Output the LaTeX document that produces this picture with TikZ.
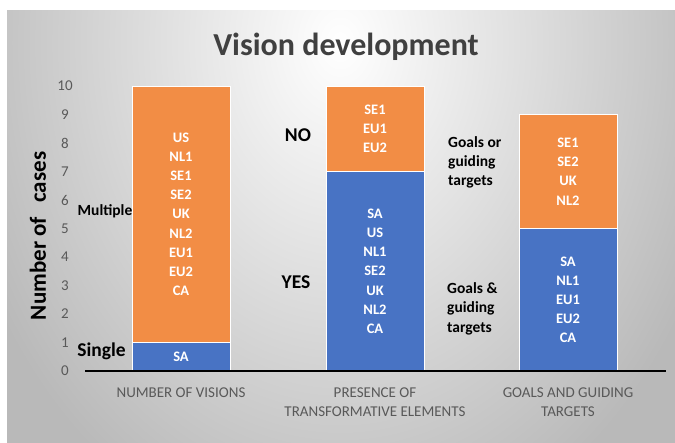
\documentclass[tikz,border=0pt]{standalone}
\usepackage{fontspec}
\setmainfont{Carlito}
\usetikzlibrary{positioning}
\definecolor{barorange}{HTML}{F28D45}
\definecolor{barblue}{HTML}{4873C4}
\definecolor{axisgray}{HTML}{595959}
\definecolor{titlegray}{HTML}{404040}
\newcommand{\caseh}{28.5pt}

\begin{document}
\begin{tikzpicture}[x=1pt,y=1pt]
    \tikzstyle{seg} = [draw=white, line width=0.8pt, minimum width=98pt, inner sep=0pt, text=white, font=\fontsize{14.5}{19.2}\selectfont\bfseries, align=center]
    \tikzstyle{tick} = [font=\fontsize{15}{17}\selectfont, text=axisgray]
    \tikzstyle{cat} = [font=\fontsize{15}{19}\selectfont, text=axisgray, align=center, inner sep=0pt]
    \tikzstyle{side} = [font=\fontsize{15.5}{19.2}\selectfont\bfseries, align=left, inner sep=0pt]
    \tikzstyle{big} = [font=\fontsize{19.5}{21}\selectfont\bfseries, inner sep=0pt]

    \useasboundingbox (0,0) rectangle (675,443);
    \begin{scope}
      \clip (7,0) rectangle (675,432);
      \shade[inner color=white, outer color=gray!55] (-60,-120) rectangle (740,920);
    \end{scope}

    \node[font=\fontsize{32}{34}\selectfont\bfseries, text=titlegray] (title) at (346,396) {Vision development};

    \begin{scope}[shift={(0,72)}, y=\caseh]
      % stacked bars
      \node[seg, fill=barblue, minimum height=1*\caseh] (visSingle) at (181,0.5) {SA};
      \node[seg, fill=barorange, minimum height=9*\caseh] (visMulti) at (181,5.5) {US\\NL1\\SE1\\SE2\\UK\\NL2\\EU1\\EU2\\CA};
      \node[seg, fill=barblue, minimum height=7*\caseh] (trYes) at (375,3.5) {SA\\US\\NL1\\SE2\\UK\\NL2\\CA};
      \node[seg, fill=barorange, minimum height=3*\caseh] (trNo) at (375,8.5) {SE1\\EU1\\EU2};
      \node[seg, fill=barblue, minimum height=5*\caseh] (glBoth) at (568,2.5) {SA\\NL1\\EU1\\EU2\\CA};
      \node[seg, fill=barorange, minimum height=4*\caseh] (glOne) at (568,7) {SE1\\SE2\\UK\\NL2};

      % axis
      \coordinate (axisL) at (85,0);
      \coordinate (axisR) at (666,0);
      \draw[line width=1.5pt] (axisL) -- (axisR);
      \foreach \v in {0,...,10}
        \node[tick] (tick\v) at (65,\v) {\v};
      \node[rotate=90, font=\fontsize{23}{25}\selectfont\bfseries] (ylab) at (38,4.74) {Number of\hspace{0.4em} cases};

      % category labels
      \node[cat, below=16pt of visSingle.south] (catVis) {NUMBER OF VISIONS};
      \node[cat, below=16pt of trYes.south] (catTr) {PRESENCE OF\\TRANSFORMATIVE ELEMENTS};
      \node[cat, below=16pt of glBoth.south] (catGl) {GOALS AND GUIDING\\TARGETS};

      % side labels
      \node[side] (lMulti) at (105,5.61) {Multiple};
      \node[big] (lSingle) at (101.5,0.7) {Single};
      \node[big] (lNo) at (298,8.28) {NO};
      \node[big] (lYes) at (296,3.12) {YES};
      \node[side, anchor=west] (lOr) at (448,7.33) {Goals or\\guiding\\targets};
      \node[side, anchor=west] (lAnd) at (447,2.18) {Goals \&\\guiding\\targets};
    \end{scope}
\end{tikzpicture}
\end{document}
